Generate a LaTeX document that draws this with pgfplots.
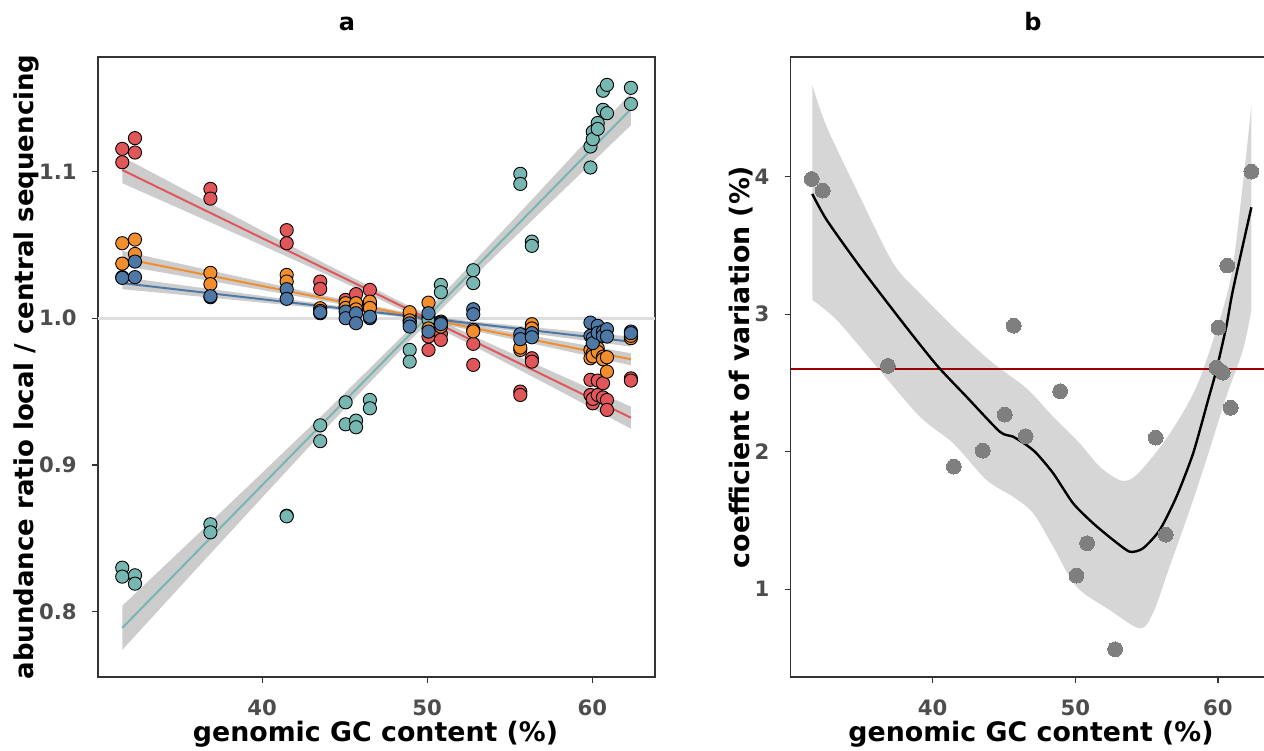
\documentclass[border=0pt]{standalone}
\usepackage{pgfplots}
\pgfplotsset{compat=1.18}
\usepgfplotslibrary{fillbetween}
\usepackage{pgfplotstable}
\usepackage{fontspec}
\setmainfont{DejaVu Sans}
\definecolor{tred}{HTML}{E15759}
\definecolor{torange}{HTML}{F28E2B}
\definecolor{tblue}{HTML}{4E79A7}
\definecolor{tteal}{HTML}{76B7B2}
\definecolor{axgray}{HTML}{333333}
\definecolor{tickgray}{HTML}{4D4D4D}
\definecolor{ptgray}{HTML}{7F7F7F}
\definecolor{dred}{HTML}{990000}
\definecolor{ribgray}{HTML}{999999}

\pgfplotstableread{
x y
31.53 1.1154
31.53 1.1063
32.30 1.1227
32.30 1.1129
36.87 1.0881
36.87 1.0815
41.49 1.0600
41.49 1.0511
43.52 1.0250
43.52 1.0200
45.06 1.0125
45.06 1.0080
45.69 1.0164
45.69 1.0100
46.53 1.0193
46.53 1.0091
48.94 1.0016
48.94 0.9980
50.08 0.9875
50.08 0.9784
50.83 0.9893
50.83 0.9852
52.79 0.9825
52.79 0.9682
55.64 0.9500
55.64 0.9477
56.34 0.9727
56.34 0.9704
59.89 0.9580
59.89 0.9477
60.03 0.9420
60.03 0.9450
60.33 0.9575
60.33 0.9477
60.65 0.9557
60.65 0.9460
60.89 0.9443
60.89 0.9375
62.34 0.9590
62.34 0.9575
}\redtab

\pgfplotstableread{
x y
31.53 1.0511
31.53 1.0372
32.30 1.0536
32.30 1.0438
36.87 1.0309
36.87 1.0232
41.49 1.0295
41.49 1.0250
43.52 1.0068
43.52 1.0050
45.06 1.0102
45.06 1.0070
45.69 1.0102
45.69 1.0060
46.53 1.0113
46.53 1.0070
48.94 1.0041
48.94 0.9985
50.08 1.0106
50.08 0.9930
50.83 0.9977
50.83 0.9943
52.79 0.9920
52.79 0.9910
55.64 0.9784
55.64 0.9800
56.34 0.9959
56.34 0.9930
59.89 0.9784
59.89 0.9727
60.03 0.9760
60.03 0.9740
60.33 0.9795
60.33 0.9770
60.65 0.9738
60.65 0.9720
60.89 0.9636
60.89 0.9734
62.34 0.9864
62.34 0.9880
}\orangetab

\pgfplotstableread{
x y
31.53 1.0280
31.53 1.0275
32.30 1.0386
32.30 1.0280
36.87 1.0143
36.87 1.0150
41.49 1.0198
41.49 1.0132
43.52 1.0034
43.52 1.0040
45.06 1.0045
45.06 1.0000
45.69 1.0034
45.69 0.9966
46.53 1.0000
46.53 1.0010
48.94 0.9965
48.94 0.9943
50.08 1.0034
50.08 0.9909
50.83 0.9970
50.83 0.9960
52.79 1.0061
52.79 1.0027
55.64 0.9891
55.64 0.9857
56.34 0.9898
56.34 0.9870
59.89 0.9970
59.89 0.9880
60.03 0.9864
60.03 0.9830
60.33 0.9948
60.33 0.9900
60.65 0.9910
60.65 0.9880
60.89 0.9925
60.89 0.9875
62.34 0.9909
62.34 0.9898
}\bluetab

\pgfplotstableread{
x y
31.53 0.8300
31.53 0.8239
32.30 0.8248
32.30 0.8191
36.87 0.8596
36.87 0.8541
41.49 0.8654
41.49 0.8650
43.52 0.9270
43.52 0.9162
45.06 0.9427
45.06 0.9277
45.69 0.9302
45.69 0.9257
46.53 0.9443
46.53 0.9386
48.94 0.9784
48.94 0.9704
50.08 1.0010
50.08 0.9990
50.83 1.0227
50.83 1.0177
52.79 1.0327
52.79 1.0239
55.64 1.0984
55.64 1.0915
56.34 1.0522
56.34 1.0493
59.89 1.1170
59.89 1.1027
60.03 1.1270
60.03 1.1220
60.33 1.1330
60.33 1.1290
60.65 1.1420
60.65 1.1550
60.89 1.1397
60.89 1.1590
62.34 1.1570
62.34 1.1460
}\tealtab

\pgfplotstableread{
x y
31.53 3.984
32.30 3.899
36.87 2.624
41.49 1.892
43.52 2.008
45.06 2.270
45.69 2.917
46.53 2.113
48.94 2.440
50.08 1.099
50.83 1.335
52.79 0.564
55.64 2.103
56.34 1.397
59.89 2.612
60.03 2.903
60.33 2.575
60.65 3.354
60.89 2.320
62.34 4.037
}\cvtab

\pgfplotsset{
  panel/.style={
    scale only axis, height=310pt, anchor=south west,
    axis line style={draw=axgray, line width=0.7pt},
    tick align=outside, xtick pos=lower, ytick pos=lower,
    major tick length=3pt,
    tick style={draw=axgray, line width=0.6pt},
    ticklabel style={font=\fontsize{10.6}{12}\selectfont\bfseries, text=tickgray},
    yticklabel style={anchor=east, inner sep=0pt, xshift=-7.5pt},
    xticklabel style={anchor=north, inner sep=0pt, yshift=-8pt},
    xmin=30.06, xmax=63.8,
    xtick={40,50,60}, xticklabels={40,50,60},
  },
  dot/.style={only marks, mark=*, mark size=3.3pt,
    mark options={fill=#1, draw=black, line width=0.45pt}},
  rib/.style={draw=none, fill=black, fill opacity=0.2},
}

\begin{document}
\begin{tikzpicture}
\begin{axis}[panel, at={(49pt,36.5pt)}, width=278.5pt,
  ymin=0.7555, ymax=1.178,
  ytick={0.8,0.9,1.0,1.1}, yticklabels={0.8,0.9,1.0,1.1}]
\addplot[draw=black!13, line width=1.5pt] coordinates {(30.06,1) (63.8,1)};
% ribbons
\addplot[rib] coordinates {(31.53,1.1100) (36,1.0834) (40,1.0596) (44,1.0361) (48.5,1.0105) (53,0.9868) (57,0.9665) (62.34,0.9397) (62.34,0.9247) (57,0.9565) (53,0.9800) (48.5,1.0055) (44,1.0293) (40,1.0496) (36,1.0697) (31.53,1.0920)} -- cycle;
\addplot[rib] coordinates {(31.53,1.0459) (36,1.0347) (40,1.0248) (44,1.0149) (48.5,1.0044) (53,0.9948) (57,0.9868) (62.34,0.9761) (62.34,0.9679) (57,0.9812) (53,0.9910) (48.5,1.0016) (44,1.0111) (40,1.0192) (36,1.0271) (31.53,1.0359)} -- cycle;
\addplot[rib] coordinates {(31.53,1.0280) (36,1.0212) (40,1.0152) (44,1.0093) (48.5,1.0030) (53,0.9976) (57,0.9932) (62.34,0.9874) (62.34,0.9806) (57,0.9886) (53,0.9946) (48.5,1.0008) (44,1.0063) (40,1.0106) (36,1.0150) (31.53,1.0198)} -- cycle;
\addplot[rib] coordinates {(31.53,0.8040) (36,0.8517) (40,0.8946) (44,0.9378) (48.5,0.9879) (53,1.0406) (57,1.0887) (62.34,1.1535) (62.34,1.1315) (57,1.0737) (53,1.0302) (48.5,0.9795) (44,0.9264) (40,0.8778) (36,0.8289) (31.53,0.7740)} -- cycle;
% fit lines
\addplot[tteal, line width=1pt] coordinates {(31.53,0.7890) (62.34,1.1425)};
\addplot[tred, line width=1pt] coordinates {(31.53,1.1010) (62.34,0.9322)};
\addplot[torange, line width=1pt] coordinates {(31.53,1.0409) (62.34,0.9720)};
\addplot[tblue, line width=1pt] coordinates {(31.53,1.0239) (62.34,0.9840)};
% points
\addplot[dot=tteal] table {\tealtab};
\addplot[dot=tred] table {\redtab};
\addplot[dot=torange] table {\orangetab};
\addplot[dot=tblue] table {\bluetab};
\end{axis}

\begin{axis}[panel, at={(395.35pt,36.5pt)}, width=240.75pt,
  ymin=0.362, ymax=4.871,
  ytick={1,2,3,4}, yticklabels={1,2,3,4}]
\addplot[dred, line width=1.2pt] coordinates {(30.06,2.6) (63.8,2.6)};
\addplot[name path=U, draw=none, smooth, tension=0.5] coordinates {
(31.57,4.668) (32.58,4.364) (34.91,3.855) (37.24,3.371) (39.11,3.153) (41.91,2.862) (44.24,2.644) (46.58,2.462) (48.45,2.255) (50.31,2.062) (51.71,1.892) (53.23,1.790) (54.28,1.831) (56.15,2.062) (57.78,2.328) (58.95,2.595) (60.82,3.225) (61.75,3.953) (62.34,4.522)};
\addplot[name path=L, draw=none, smooth, tension=0.5] coordinates {
(31.57,3.104) (33.28,2.959) (36.08,2.619) (39.11,2.255) (41.44,2.062) (43.78,1.795) (45.64,1.673) (47.05,1.553) (48.45,1.310) (50.08,1.019) (52.41,0.849) (54.51,0.716) (55.44,0.825) (56.61,1.164) (58.02,1.577) (59.18,1.940) (60.58,2.400) (61.75,2.740) (62.34,3.031)};
\addplot[draw=none, fill=ribgray, fill opacity=0.4] fill between[of=U and L];
\addplot[only marks, mark=*, mark size=3.7pt, color=ptgray, mark options={fill=ptgray, draw=ptgray, line width=0pt}] table {\cvtab};
\addplot[black, line width=1.2pt, smooth, tension=0.4] coordinates {
(31.57,3.875) (32.58,3.686) (34.91,3.346) (37.94,2.935) (40.28,2.631) (42.37,2.401) (44.71,2.146) (45.64,2.110) (46.58,2.049) (47.28,1.989) (48.45,1.844) (49.85,1.625) (51.25,1.480) (52.65,1.359) (53.82,1.273) (54.75,1.298) (55.92,1.431) (57.09,1.673) (58.26,1.989) (59.31,2.377) (59.89,2.595) (60.58,2.910) (61.05,3.177) (62.34,3.778)};
\end{axis}

\node[font=\fontsize{12}{14}\selectfont\bfseries, anchor=base] at (173.5pt,359.6pt) {a};
\node[font=\fontsize{12}{14}\selectfont\bfseries, anchor=base] at (516.5pt,359.6pt) {b};
\node[font=\fontsize{13.4}{16}\selectfont\bfseries, anchor=base] at (187.75pt,4.5pt) {genomic GC content (\%)};
\node[font=\fontsize{13.4}{16}\selectfont\bfseries, anchor=base] at (515.5pt,4.5pt) {genomic GC content (\%)};
\node[font=\fontsize{13}{16}\selectfont\bfseries, anchor=base, rotate=90] at (16.75pt,191.5pt) {abundance ratio local / central sequencing};
\node[font=\fontsize{13.4}{16}\selectfont\bfseries, anchor=base, rotate=90] at (374.75pt,191.5pt) {coefficient of variation (\%)};

\pgfresetboundingbox
\path[use as bounding box] (0,0) rectangle (632pt,375pt);
\end{tikzpicture}
\end{document}
